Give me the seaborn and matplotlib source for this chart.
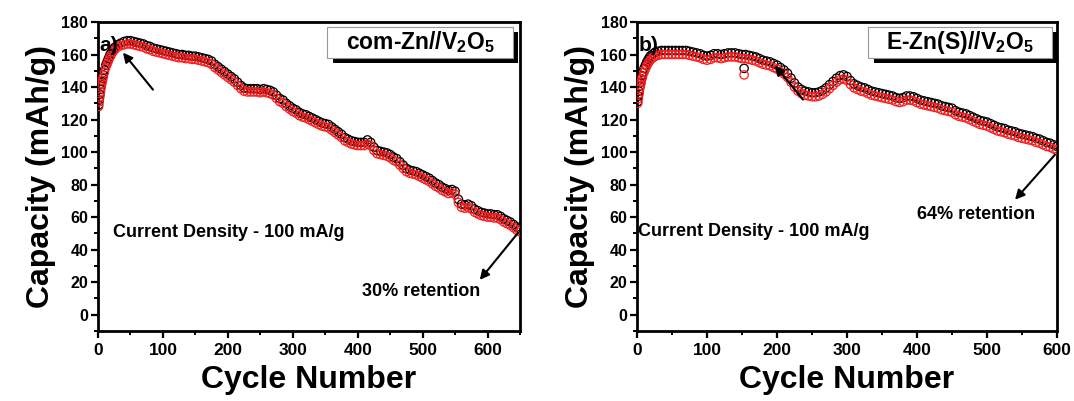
import matplotlib
matplotlib.use("Agg")
import matplotlib.pyplot as plt
import matplotlib.patches as mpatches
import matplotlib.patheffects as pe
from matplotlib.ticker import MultipleLocator
import seaborn as sns
import pandas as pd

# ---------------- data ----------------
cycles_a = [1, 2, 3, 4, 5, 6, 7, 8, 10, 12, 14, 16, 18, 20, 23, 26, 30, 35, 40, 45, 50,
            55, 60, 65, 70, 75, 80, 85, 90, 95, 100, 105, 110, 115, 120, 125, 130, 135, 140,
            145, 150, 155, 160, 165, 170, 175, 180, 185, 190, 195, 200, 205, 210, 215, 220,
            225, 230, 235, 240, 245, 250, 255, 260, 265, 270, 275, 280, 285, 290, 295, 300,
            305, 310, 315, 320, 325, 330, 335, 340, 345, 350, 355, 360, 365, 370, 375, 380,
            385, 390, 395, 400, 405, 410, 415, 420, 425, 430, 435, 440, 445, 450, 455, 460,
            465, 470, 475, 480, 485, 490, 495, 500, 505, 510, 515, 520, 525, 530, 535, 540,
            545, 550, 555, 560, 565, 570, 575, 580, 585, 590, 595, 600, 605, 610, 615, 620,
            625, 630, 635, 640, 645, 650]
discharge_a = [128, 131, 134, 137, 140, 142, 144, 146, 149, 152, 154, 156, 158, 159.5, 161.5,
               163, 164.5, 165.5, 166, 166.5, 166.5, 166, 165.5, 165, 164.5, 163.5, 163, 162,
               161.5, 161, 160.5, 160, 159.5, 159, 158.5, 158, 158, 157.5, 157.5, 157, 157,
               156.5, 156, 155.5, 155, 154, 152, 150.5, 149, 147.5, 146, 144.5, 143, 141, 139,
               137.5, 137, 137, 137, 137, 136.5, 137, 136.5, 136, 135, 133, 131, 130, 128,
               126.5, 125, 124, 122.5, 121.5, 121, 120, 119, 118, 117, 116, 115.5, 115, 113.5,
               112, 110.5, 109, 107, 106, 105, 104.5, 104, 104, 104, 105, 104, 101, 99, 98.5,
               98, 97.5, 96.5, 95, 94, 92, 90, 88, 87, 86.5, 86, 85, 84, 83, 82, 80.5, 79, 78,
               76.5, 75.5, 74.5, 75, 74, 69, 66, 65.5, 66, 65, 63, 62, 61, 60.5, 60, 60, 59.5,
               59.5, 58.5, 57, 56, 55, 53.5, 52, 51]
charge_a = [129, 132, 135.5, 138.5, 141.5, 143.5, 145.5, 147.5, 150.5, 153.5, 155.5, 157.5,
            159.5, 161, 163, 164.5, 166, 167, 168, 168.5, 168.5, 168, 167.5, 167, 166.5, 165.5,
            165, 164, 163.5, 163, 162.5, 162, 161.5, 161, 160.5, 160, 160, 159.5, 159.5, 159,
            159, 158.5, 158, 157.5, 157, 156, 154, 152.5, 151, 149.5, 148, 146.5, 145, 143,
            141, 139.5, 139, 139, 139, 139, 138.5, 139, 138.5, 138, 137, 135, 133, 132, 130,
            128.5, 127, 126, 124.5, 123.5, 123, 122, 121, 120, 119, 118, 117.5, 117, 115.5,
            114, 112.5, 111, 109, 108, 107, 106.5, 106, 106, 106, 107.5, 106, 103, 101, 100.5,
            100, 99.5, 98.5, 97, 96, 94, 92, 90, 89, 88.5, 88, 87, 86, 85, 84, 82.5, 81, 80,
            78.5, 77.5, 76.5, 77, 76, 71, 68, 67.5, 68, 67, 65, 64, 63, 62.5, 62, 62, 61.5,
            61.5, 60.5, 59, 58, 57, 55.5, 54, 53]

cycles_b = [1, 2, 3, 4, 5, 6, 7, 8, 10, 12, 14, 16, 18, 20, 23, 26, 30, 35, 40, 45, 50,
            55, 60, 65, 70, 75, 80, 85, 90, 95, 100, 105, 110, 115, 120, 125, 130, 135, 140,
            145, 150, 153, 155, 160, 165, 170, 175, 180, 185, 190, 195, 200, 205, 210, 215,
            220, 225, 230, 235, 240, 245, 250, 255, 260, 265, 270, 275, 280, 285, 290, 295,
            300, 305, 310, 315, 320, 325, 330, 335, 340, 345, 350, 355, 360, 365, 370, 375,
            380, 385, 390, 395, 400, 405, 410, 415, 420, 425, 430, 435, 440, 445, 450, 455,
            460, 465, 470, 475, 480, 485, 490, 495, 500, 505, 510, 515, 520, 525, 530, 535,
            540, 545, 550, 555, 560, 565, 570, 575, 580, 585, 590, 595, 600]
discharge_b = [130, 133, 136, 139, 141, 143, 145, 146.5, 149, 151, 153, 154.5, 156, 157, 158,
               159, 159.5, 160, 160, 160, 160, 160, 160, 160, 160, 159.5, 159, 158.5, 158,
               157, 156.5, 157, 158, 158, 157.5, 158, 158.5, 158.5, 158.5, 158, 157.5, 147.5,
               157.5, 157, 156.5, 156, 155, 154, 153.5, 153, 152, 151, 149.5, 148, 146, 143,
               140, 137.5, 136, 135, 134.5, 134, 134, 134.5, 135.5, 137, 139, 141, 143, 144.5,
               145, 144, 141.5, 139.5, 138.5, 137.5, 137, 136, 135, 134.5, 134, 133.5, 133,
               132.5, 132, 131, 130.5, 131, 132, 132, 131.5, 130.5, 129.5, 129, 128.5, 128,
               127.5, 127, 126, 125.5, 125, 124.5, 123, 122, 121.5, 121, 120, 119, 118, 117,
               116.5, 116, 115, 114, 113, 112.5, 112, 111, 110.5, 110, 109, 108.5, 108, 107.5,
               107, 106, 105.5, 104.5, 103.5, 103, 102, 101]
charge_b = [131, 134.5, 137.5, 140.5, 143, 145, 147, 149, 151.5, 153.5, 155.5, 157, 158.5,
            159.5, 160.5, 161.5, 162, 162.5, 162.5, 162.5, 162.5, 162.5, 162.5, 162.5, 162.5,
            162, 161.5, 161, 160.5, 159.5, 159, 159.5, 160.5, 160.5, 160, 160.5, 161, 161,
            161, 160.5, 160, 151.5, 160, 159.5, 159, 158.5, 157.5, 156.5, 156, 155.5, 154.5,
            153.5, 152, 150.5, 148.5, 145.5, 142.5, 140, 138.5, 137.5, 137, 136.5, 136.5, 137,
            138, 139.5, 141.5, 143.5, 145.5, 147, 147.5, 146.5, 144, 142, 141, 140, 139.5,
            138.5, 137.5, 137, 136.5, 136, 135.5, 135, 134.5, 133.5, 133, 133.5, 134.5, 134.5,
            134, 133, 132, 131.5, 131, 130.5, 130, 129.5, 128.5, 128, 127.5, 127, 125.5, 124.5,
            124, 123.5, 122.5, 121.5, 120.5, 119.5, 119, 118.5, 117.5, 116.5, 115.5, 115,
            114.5, 113.5, 113, 112.5, 111.5, 111, 110.5, 110, 109.5, 108.5, 108, 107, 106,
            105.5, 104.5, 103.5]

legend_a = r"com-Zn//V$_\mathbf{2}$O$_\mathbf{5}$"
legend_b = r"E-Zn(S)//V$_\mathbf{2}$O$_\mathbf{5}$"
x_ticks_a = [0, 100, 200, 300, 400, 500, 600]
x_ticks_b = [0, 100, 200, 300, 400, 500, 600]
y_ticks = [0, 20, 40, 60, 80, 100, 120, 140, 160, 180]

# ---------------- style ----------------
sns.set_style("ticks")
plt.rcParams["font.family"] = ["Liberation Sans", "DejaVu Sans"]
plt.rcParams["font.weight"] = "bold"
plt.rcParams["mathtext.fontset"] = "custom"
plt.rcParams["mathtext.rm"] = "Liberation Sans:bold"
plt.rcParams["mathtext.bf"] = "Liberation Sans:bold"
plt.rcParams["mathtext.it"] = "Liberation Sans:bold"
for key in ["text.color", "axes.labelcolor", "xtick.color", "ytick.color", "axes.edgecolor"]:
    plt.rcParams[key] = "black"

fig = plt.figure(figsize=(10.74, 4.01), dpi=100)
ax1 = fig.add_axes([0.0912, 0.1746, 0.3930, 0.7705])
ax2 = fig.add_axes([0.5931, 0.1746, 0.3911, 0.7705])


def draw_panel(ax, cyc, charge, discharge, xmax, xticks):
    df = pd.DataFrame({"cycle": cyc, "charge": charge, "discharge": discharge})
    sns.scatterplot(data=df, x="cycle", y="charge", ax=ax, marker="o", s=36,
                    facecolors="none", edgecolor="black", linewidth=0.9, zorder=2)
    sns.scatterplot(data=df, x="cycle", y="discharge", ax=ax, marker="o", s=36,
                    facecolors="none", edgecolor="#ff1a1a", linewidth=0.9, zorder=3)
    ax.set_xlim(0, xmax)
    ax.set_ylim(-10, 180)
    ax.set_xticks(xticks)
    ax.set_yticks(y_ticks)
    ax.xaxis.set_minor_locator(MultipleLocator(50))
    ax.yaxis.set_minor_locator(MultipleLocator(10))
    ax.tick_params(which="major", direction="out", length=5, width=1.6,
                   top=False, right=False, color="black")
    ax.tick_params(which="minor", direction="out", length=3, width=1.4,
                   top=False, right=False, color="black")
    ax.tick_params(axis="x", labelsize=12.5, pad=4, labelcolor="black")
    ax.tick_params(axis="y", labelsize=11.5, pad=2, labelcolor="black")
    for lab in ax.get_xticklabels() + ax.get_yticklabels():
        lab.set_fontweight("bold")
    for sp in ax.spines.values():
        sp.set_linewidth(2.0)
        sp.set_color("black")
        sp.set_visible(True)
    ax.set_xlabel("Cycle Number", fontsize=23, fontweight="bold", labelpad=5, color="black")
    ax.set_ylabel("Capacity (mAh/g)", fontsize=23, fontweight="bold", labelpad=4, color="black")


def boxed_label(ax, x0, x1, y0, y1, s):
    rect = mpatches.Rectangle((x0, y0), x1 - x0, y1 - y0, transform=ax.transAxes,
                              facecolor="white", edgecolor="#999999", lw=0.8, zorder=9,
                              clip_on=False)
    rect.set_path_effects([pe.SimplePatchShadow(offset=(4, -4), shadow_rgbFace="black",
                                                alpha=1.0), pe.Normal()])
    ax.add_patch(rect)
    ax.text((x0 + x1) / 2, (y0 + y1) / 2, s, transform=ax.transAxes, ha="center",
            va="center", fontsize=16.5, fontweight="bold", color="black", zorder=10)


draw_panel(ax1, cycles_a, charge_a, discharge_a, 650, x_ticks_a)
draw_panel(ax2, cycles_b, charge_b, discharge_b, 600, x_ticks_b)

boxed_label(ax1, 0.543, 0.983, 0.885, 0.985, legend_a)
boxed_label(ax2, 0.550, 0.988, 0.885, 0.985, legend_b)

ax1.text(0.003, 0.925, "a)", transform=ax1.transAxes, fontsize=15, fontweight="bold",
         ha="left", va="center", zorder=11, color="black")
ax2.text(0.003, 0.925, "b)", transform=ax2.transAxes, fontsize=15, fontweight="bold",
         ha="left", va="center", zorder=11, color="black")

ax1.text(23, 50.5, "Current Density - 100 mA/g", fontsize=13, fontweight="bold",
         ha="left", va="center", color="black")
ax2.text(1, 51, "Current Density - 100 mA/g", fontsize=13, fontweight="bold",
         ha="left", va="center", color="black")

ax1.text(497, 14, "30% retention", fontsize=13, fontweight="bold", ha="center",
         va="center", color="black")
ax2.text(484, 61.4, "64% retention", fontsize=13, fontweight="bold", ha="center",
         va="center", color="black")

arrow = dict(arrowstyle="-|>", color="black", lw=1.5, mutation_scale=14, shrinkA=0, shrinkB=0)
ax1.annotate("", xy=(38.5, 161.2), xytext=(84.7, 138.4), arrowprops=arrow, zorder=12)
ax1.annotate("", xy=(588, 21.4), xytext=(647, 50.4), arrowprops=arrow, zorder=12)
ax2.annotate("", xy=(197, 153.2), xytext=(237, 132.3), arrowprops=arrow, zorder=12)
ax2.annotate("", xy=(540, 70.7), xytext=(597, 98.4), arrowprops=arrow, zorder=12)

fig.savefig("out.png", dpi=100)
